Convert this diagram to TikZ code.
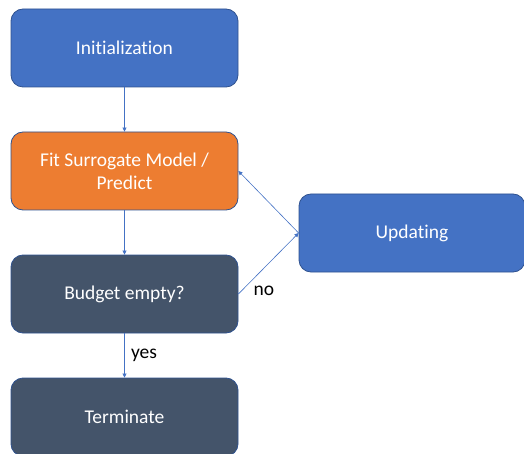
\documentclass[tikz,border=0pt]{standalone}
\usepackage{fontspec}
\setmainfont[Ligatures={NoCommon}]{Carlito}
\usetikzlibrary{arrows.meta}
\definecolor{boxblue}{HTML}{4472C4}
\definecolor{boxorange}{HTML}{ED7D31}
\definecolor{boxslate}{HTML}{44546A}
\definecolor{rimblue}{HTML}{2F528F}
\begin{document}
\begin{tikzpicture}[x=1pt,y=-1pt,
  block/.style={rounded corners=12pt, draw=rimblue, line width=0.8pt,
    minimum width=227pt, minimum height=78pt, text=white,
    font=\fontsize{19.5}{23}\selectfont, align=center, inner sep=0pt},
  link/.style={draw=boxblue, line width=0.6pt, -{Triangle[length=4pt,width=4pt]}},
  tag/.style={font=\fontsize{19.5}{23}\selectfont, text=black}]
\useasboundingbox (0,0) rectangle (524,454);
\node[block, fill=boxblue] (init) at (124.5,48) {Initialization};
\node[block, fill=boxorange] (fit) at (124.5,171) {Fit Surrogate Model /\\Predict};
\node[block, fill=boxslate] (budget) at (124.5,294) {Budget empty?};
\node[block, fill=boxslate] (term) at (124.5,417) {Terminate};
\node[block, fill=boxblue, minimum width=226pt] (upd) at (412,233) {Updating};
\draw[link] (init) -- (fit);
\draw[link] (fit) -- (budget);
\draw[link] (budget) -- node[tag, right, xshift=3pt] {yes} (term);
\draw[link] (budget.east) -- (upd.west);
\draw[link] (upd.west) -- (fit.east);
\node[tag] (no) at (264,291) {no};
\end{tikzpicture}
\end{document}
